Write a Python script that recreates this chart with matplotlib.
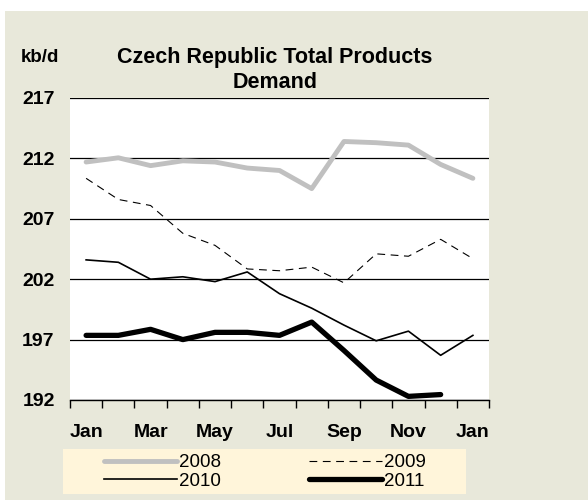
import matplotlib.pyplot as plt
from matplotlib.patches import Rectangle

plt.rcParams['font.family'] = ['Liberation Sans', 'DejaVu Sans']

months = ['Jan', 'Feb', 'Mar', 'Apr', 'May', 'Jun', 'Jul', 'Aug', 'Sep', 'Oct', 'Nov', 'Dec', 'Jan']
d2008 = [211.7, 212.05, 211.4, 211.8, 211.7, 211.2, 211.0, 209.5, 213.4, 213.3, 213.1, 211.5, 210.35]
d2009 = [210.35, 208.6, 208.1, 205.8, 204.8, 202.85, 202.7, 203.0, 201.7, 204.1, 203.9, 205.3, 203.7]
d2010 = [203.6, 203.4, 202.0, 202.2, 201.8, 202.6, 200.8, 199.6, 198.2, 196.9, 197.7, 195.7, 197.35]
d2011 = [197.35, 197.35, 197.85, 197.0, 197.6, 197.6, 197.35, 198.45, 196.1, 193.65, 192.3, 192.45]
yticks = [192, 197, 202, 207, 212, 217]

fig = plt.figure(figsize=(5.88, 5.0), dpi=100)
fig.patch.set_facecolor('white')
fig.patches.append(Rectangle((5 / 588, 0), 1, 1 - 11 / 500, transform=fig.transFigure,
                             facecolor='#E8E8DA', edgecolor='none', zorder=-10))
# legend background strip
fig.patches.append(Rectangle((63 / 588, 1 - 494 / 500), (466 - 63) / 588, 45 / 500,
                             transform=fig.transFigure, facecolor='#FFF5DA', edgecolor='none', zorder=-5))

ax = fig.add_axes([70 / 588, 0.2, (489 - 70) / 588, (400 - 98) / 500])
ax.set_facecolor('white')

x = list(range(len(months)))
l08, = ax.plot(x, d2008, color='#C0C0C0', lw=3.5, solid_capstyle='round', label='2008')
l09, = ax.plot(x, d2009, color='black', lw=0.8, ls=(0, (7, 5)), label='2009')
l10, = ax.plot(x, d2010, color='black', lw=1.2, label='2010')
l11, = ax.plot(x[:len(d2011)], d2011, color='black', lw=3.8, solid_capstyle='round', label='2011')

ax.set_ylim(192, 217)
ax.set_yticks(yticks)
ax.yaxis.grid(True, color='black', lw=0.9)
ax.set_axisbelow(True)
ax.set_xlim(-0.5, 12.5)
ax.set_xticks(x[::2])
ax.set_xticklabels(months[::2])
ax.set_xticks([i - 0.5 for i in range(14)], minor=True)
ax.tick_params(axis='x', which='major', length=0, pad=17)
ax.tick_params(axis='x', which='minor', length=6, width=1, direction='out', color='black')
ax.tick_params(axis='y', length=0, pad=11)
for lab in ax.get_xticklabels() + ax.get_yticklabels():
    lab.set_fontweight('bold')
    lab.set_fontsize(14)
for s in ['left', 'right', 'top']:
    ax.spines[s].set_visible(False)
ax.spines['bottom'].set_color('black')
ax.spines['bottom'].set_linewidth(1)

fig.text(275 / 588, 1 - 70 / 500, 'Czech Republic Total Products\nDemand', ha='center', va='center',
         fontsize=15.5, fontweight='bold', linespacing=1.2)
fig.text(21 / 588, 1 - 58 / 500, 'kb/d', ha='left', va='center', fontsize=13.5, fontweight='bold')

leg = fig.legend([l08, l10, l09, l11], ['2008', '2010', '2009', '2011'], ncol=2,
                 loc='center', bbox_to_anchor=(265 / 588, 1 - 472 / 500),
                 frameon=False, fontsize=13.5, handlelength=3.9, handletextpad=0.1,
                 columnspacing=4.7, labelspacing=0.08, borderpad=0.25, borderaxespad=0)

fig.savefig('out.png', dpi=100, facecolor=fig.get_facecolor())
